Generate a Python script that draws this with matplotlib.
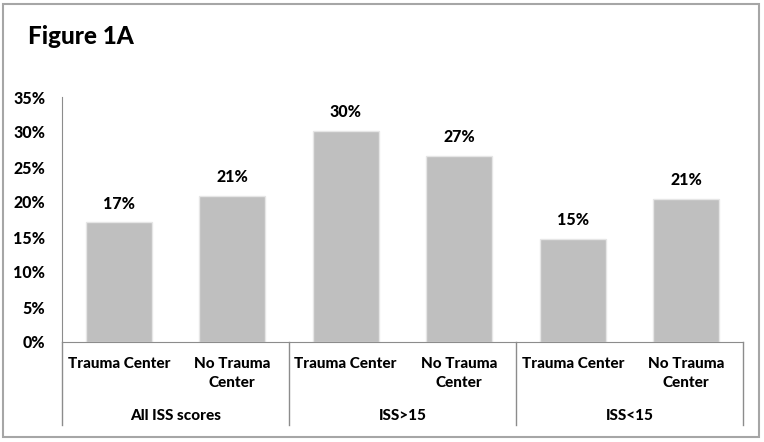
import matplotlib
matplotlib.use("Agg")
import matplotlib.pyplot as plt
import matplotlib.patches as patches

# ---------------------------------------------------------------
# data
# ---------------------------------------------------------------
groups = ["All ISS scores", "ISS>15", "ISS<15"]
sub_labels = ["Trauma Center", "No Trauma\nCenter"]
values = [17.1, 20.9, 30.2, 26.6, 14.7, 20.5]
value_labels = ["17%", "21%", "30%", "27%", "15%", "21%"]
y_ticks = [0, 5, 10, 15, 20, 25, 30, 35]

WEIGHT = 900
plt.rcParams['font.family'] = ['Lato', 'DejaVu Sans']
plt.rcParams['font.weight'] = WEIGHT

fig = plt.figure(figsize=(7.64, 4.42), dpi=100)
ax = fig.add_axes([62 / 764, 1 - 342 / 442, 681 / 764, 245 / 442])

xs = list(range(len(values)))
ax.bar(xs, values, width=0.58, color="#BFBFBF", edgecolor="#E6E6E6", linewidth=1.0, zorder=2)

for x, v, lab in zip(xs, values, value_labels):
    ax.annotate(lab, (x, v), xytext=(0, 13.5), textcoords="offset points",
                ha="center", va="center", fontsize=11.5, fontweight=WEIGHT, color="black")

ax.set_xlim(-0.5, len(values) - 0.5)
ax.set_ylim(0, 35)
ax.set_yticks(y_ticks)
ax.set_yticklabels([f"{t}%" for t in y_ticks], fontsize=11.5, fontweight=WEIGHT)
ax.tick_params(axis="y", length=0, pad=12)
ax.set_xticks([])

for side in ["top", "right"]:
    ax.spines[side].set_visible(False)
ax.spines["left"].set_color("#8C8C8C")
ax.spines["bottom"].set_color("#8C8C8C")

# multi-level category axis (Excel style)
trans = ax.get_xaxis_transform()
n_sub = len(sub_labels)
for i in range(len(values)):
    ax.text(i, -0.06, sub_labels[i % n_sub], transform=trans, ha="center", va="top",
            fontsize=11, fontweight=WEIGHT, linespacing=1.45)
for g, name in enumerate(groups):
    ax.text(g * n_sub + (n_sub - 1) / 2, -0.30, name, transform=trans, ha="center", va="center",
            fontsize=11, fontweight=WEIGHT)
for g in range(len(groups) + 1):
    ax.plot([g * n_sub - 0.5] * 2, [0, -0.339], transform=trans, color="#8C8C8C",
            linewidth=1.0, clip_on=False)

# title and outer frame
fig.text(28 / 764, 1 - 36 / 442, "Figure 1A", fontsize=17.5, fontweight=WEIGHT, va="center", ha="left")
frame = patches.Rectangle((3 / 764, 1 - 437 / 442), 756 / 764, 433 / 442, transform=fig.transFigure,
                          fill=False, edgecolor="#A6A6A6", linewidth=1.5)
fig.patches.append(frame)

fig.savefig("out.png", dpi=100)
